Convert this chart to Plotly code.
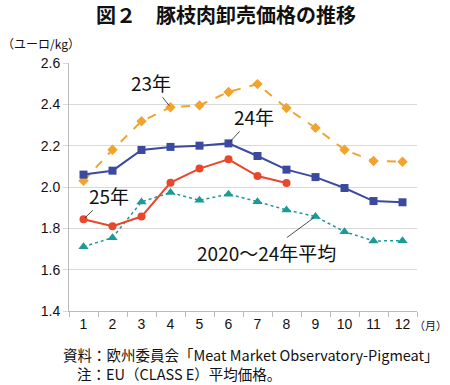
import plotly.graph_objects as go

months = ["1", "2", "3", "4", "5", "6", "7", "8", "9", "10", "11", "12"]
y23 = [2.03, 2.18, 2.318, 2.386, 2.395, 2.46, 2.498, 2.382, 2.286, 2.18, 2.126, 2.122]
y24 = [2.06, 2.079, 2.179, 2.194, 2.20, 2.211, 2.15, 2.084, 2.048, 1.995, 1.932, 1.926]
y25 = [1.844, 1.81, 1.857, 2.021, 2.089, 2.134, 2.053, 2.019]
yavg = [1.711, 1.755, 1.928, 1.973, 1.936, 1.965, 1.929, 1.889, 1.857, 1.784, 1.739, 1.74]

FONT = "Noto Sans CJK JP"
C23 = "#F2A32C"
C24 = "#3C4A9E"
C25 = "#E8472B"
CAVG = "#1C9A96"

fig = go.Figure()
fig.add_trace(go.Scatter(x=months, y=yavg, mode="lines+markers",
                         line=dict(color=CAVG, width=1.5, dash="dot"),
                         marker=dict(symbol="triangle-up", size=9, color=CAVG)))
fig.add_trace(go.Scatter(x=months, y=y23, mode="lines+markers",
                         line=dict(color=C23, width=2, dash="dash"),
                         marker=dict(symbol="diamond", size=8, color=C23)))
fig.add_trace(go.Scatter(x=months, y=y24, mode="lines+markers",
                         line=dict(color=C24, width=2),
                         marker=dict(symbol="square", size=8, color=C24)))
fig.add_trace(go.Scatter(x=months[:len(y25)], y=y25, mode="lines+markers",
                         line=dict(color=C25, width=2),
                         marker=dict(symbol="circle", size=8, color=C25)))

def label(text, idx, yv, ax, ay):
    # idx: category index on the x axis
    fig.add_annotation(x=idx, y=yv, xref="x", yref="y", text=text, showarrow=True,
                       arrowhead=0, arrowwidth=0.8, arrowcolor="#222222", ax=ax, ay=ay,
                       standoff=2, font=dict(family=FONT, size=19, color="#111111"))

label("23年", 3, y23[3], -20, -25)
label("24年", 5, y24[5], 25, -27)
label("25年", 0, y25[0], 25, -24)
label("2020～24年平均", 8, yavg[8], -49, 36)

fig.add_annotation(xref="paper", yref="paper", x=0.5, y=1, xanchor="center", yanchor="middle",
                   yshift=49, xshift=-17, text="<b>図２　豚枝肉卸売価格の推移</b>", showarrow=False,
                   font=dict(family=FONT, size=20, color="#111111"))

fig.update_layout(
    template="none",
    width=450, height=385,
    margin=dict(l=69, r=33, t=63, b=74, autoexpand=False),
    paper_bgcolor="white", plot_bgcolor="white",
    showlegend=False,
    font=dict(family=FONT, color="#111111"),
    xaxis=dict(type="category", range=[-0.5, 11.5], tickson="boundaries", ticks="outside", ticklen=5,
               tickcolor="#BBBBBB", showline=True, linecolor="#BBBBBB", linewidth=1,
               showgrid=False, automargin=False,
               tickfont=dict(family="Liberation Sans", size=14, color="#111111")),
    yaxis=dict(range=[1.4, 2.6], dtick=0.2, tickformat=".1f", showgrid=True,
               gridcolor="#D9D9D9", gridwidth=1, ticks="outside", ticklen=5,
               tickcolor="#D9D9D9", showline=True, linecolor="#BBBBBB", linewidth=1,
               zeroline=False, automargin=False,
               tickfont=dict(family="Liberation Sans", size=14, color="#111111")),
)

fig.add_annotation(xref="paper", yref="paper", x=0, y=1, xanchor="left", yanchor="middle",
                   xshift=-69, yshift=20, text="（ユーロ/kg）", showarrow=False,
                   font=dict(family=FONT, size=12))
fig.add_annotation(xref="paper", yref="paper", x=1, y=0, xanchor="right", yanchor="middle",
                   xshift=32, yshift=-14, text="（月）", showarrow=False,
                   font=dict(family=FONT, size=11))
fig.add_annotation(xref="paper", yref="paper", x=0, y=0, xanchor="left", yanchor="middle",
                   xshift=-7, yshift=-43.5, borderpad=0,
                   text="資料：欧州委員会「Meat Market Observatory-Pigmeat」",
                   showarrow=False, font=dict(family=FONT, size=14.5))
fig.add_annotation(xref="paper", yref="paper", x=0, y=0, xanchor="left", yanchor="middle",
                   xshift=7, yshift=-62.5, borderpad=0,
                   text="注：EU（CLASS E）平均価格。",
                   showarrow=False, font=dict(family=FONT, size=14.5))

fig.write_html("out.html", config={"displayModeBar": False},
               post_script="document.body.style.margin='0';document.body.style.overflow='hidden';")
